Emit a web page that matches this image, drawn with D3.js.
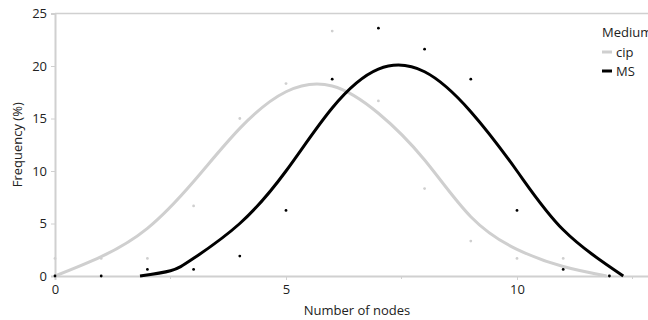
<!DOCTYPE html>
<html>
<head>
<meta charset="utf-8">
<script src="https://cdn.jsdelivr.net/npm/d3@7"></script>
<style>
  body { margin: 0; background: #fff; }
  svg { display: block; font-family: "Open Sans", "Noto Sans", sans-serif; }
</style>
</head>
<body>
<div id="chart"></div>
<script>
// observed frequencies per number of nodes
const nodes = [0, 1, 2, 3, 4, 5, 6, 7, 8, 9, 10, 11, 12];
const cipFreq = [1.67, 1.67, 1.67, 6.67, 15.0, 18.33, 23.33, 16.67, 8.33, 3.33, 1.67, 1.67, 0];
const msFreq = [0, 0, 0.63, 0.63, 1.9, 6.25, 18.75, 23.6, 21.6, 18.75, 6.25, 0.63, 0];

// fitted curves
const cipCurveX = [0, 1, 2, 3, 4, 5, 6, 7, 8, 9, 10, 11, 11.94];
const cipCurveY = [0, 1.84, 4.54, 9.0, 14.06, 17.55, 18.1, 15.5, 11.05, 5.65, 2.54, 0.9, 0];
const msCurveX = [1.84, 2.5, 3, 4, 5, 6, 7, 8, 9, 10, 11, 12.3];
const msCurveY = [0, 0.5, 1.68, 5.0, 10.0, 16.0, 19.7, 19.45, 15.65, 10.0, 4.4, 0];

const seriesNames = ['cip', 'MS'];
const seriesColors = ['#cfcfcf', '#000000'];
const xTicks = [0, 5, 10];
const xMinor = [2.5, 7.5, 12.5];
const yTicks = [0, 5, 10, 15, 20, 25];

const width = 648;
const height = 320;
const plotLeft = 55, plotTop = 13.5, plotBottom = 276;

const x = d3.scaleLinear().domain([0, 13]).range([plotLeft, plotLeft + 13 * 46.2]);
const y = d3.scaleLinear().domain([0, 25]).range([plotBottom, plotTop]);

const svg = d3.select('#chart')
    .append('svg')
    .attr('width', width)
    .attr('height', height);

const axisColor = '#d0d0d0';
const fontSize = 13;

// top border
svg.append('line')
    .attr('x1', plotLeft).attr('x2', width)
    .attr('y1', y(25)).attr('y2', y(25))
    .attr('stroke', axisColor).attr('stroke-width', 1.5);

// y axis
const yAxis = svg.append('g')
    .attr('transform', `translate(${plotLeft},0)`)
    .call(d3.axisLeft(y).tickValues(yTicks).tickSize(4).tickPadding(4));
yAxis.select('.domain').attr('stroke', axisColor).attr('stroke-width', 2);
yAxis.selectAll('.tick line').attr('stroke', axisColor);
yAxis.selectAll('.tick text').attr('font-size', fontSize).attr('fill', '#222')
    .attr('font-family', '"Open Sans", sans-serif');

// x axis
const xAxis = svg.append('g')
    .attr('transform', `translate(0,${plotBottom})`)
    .call(d3.axisBottom(x).tickValues(xTicks).tickSize(4).tickPadding(5));
xAxis.select('.domain').attr('stroke', axisColor).attr('stroke-width', 2);
xAxis.selectAll('.tick line').attr('stroke', axisColor);
xAxis.selectAll('.tick text').attr('font-size', fontSize).attr('fill', '#222')
    .attr('font-family', '"Open Sans", sans-serif');

svg.append('g')
    .selectAll('line')
    .data(xMinor)
    .enter()
    .append('line')
    .attr('x1', d => x(d)).attr('x2', d => x(d))
    .attr('y1', plotBottom).attr('y2', plotBottom + 3)
    .attr('stroke', axisColor);

// axis titles
svg.append('text')
    .attr('x', 357).attr('y', 315)
    .attr('text-anchor', 'middle')
    .attr('font-size', fontSize).attr('fill', '#222')
    .text('Number of nodes');

svg.append('text')
    .attr('transform', `translate(22,${(plotTop + plotBottom) / 2}) rotate(-90)`)
    .attr('text-anchor', 'middle')
    .attr('font-size', fontSize).attr('fill', '#222')
    .text('Frequency (%)');

// curves
const line = d3.line()
    .x(d => x(d[0]))
    .y(d => y(d[1]))
    .curve(d3.curveNatural);

const curves = [
    d3.zip(cipCurveX, cipCurveY),
    d3.zip(msCurveX, msCurveY)
];

svg.append('g')
    .selectAll('path')
    .data(curves)
    .enter()
    .append('path')
    .attr('d', line)
    .attr('fill', 'none')
    .attr('stroke', (d, i) => seriesColors[i])
    .attr('stroke-width', 3);

// points
const pointSets = [cipFreq, msFreq];
pointSets.forEach((vals, i) => {
    svg.append('g')
        .selectAll('circle')
        .data(vals)
        .enter()
        .append('circle')
        .attr('cx', (d, j) => x(nodes[j]))
        .attr('cy', d => y(d))
        .attr('r', 1.4)
        .attr('fill', seriesColors[i]);
});

// legend
const legend = svg.append('g').attr('transform', 'translate(602,0)');
legend.append('text')
    .attr('x', 0).attr('y', 37)
    .attr('font-size', fontSize).attr('fill', '#222')
    .text('Medium');

const items = legend.selectAll('.item')
    .data(seriesNames)
    .enter()
    .append('g')
    .attr('class', 'item')
    .attr('transform', (d, i) => `translate(0,${52 + i * 19})`);

items.append('line')
    .attr('x1', 0).attr('x2', 10)
    .attr('stroke', (d, i) => seriesColors[i])
    .attr('stroke-width', 3);

items.append('text')
    .attr('x', 14).attr('y', 4.5)
    .attr('font-size', fontSize).attr('fill', '#222')
    .text(d => d);
</script>
</body>
</html>
